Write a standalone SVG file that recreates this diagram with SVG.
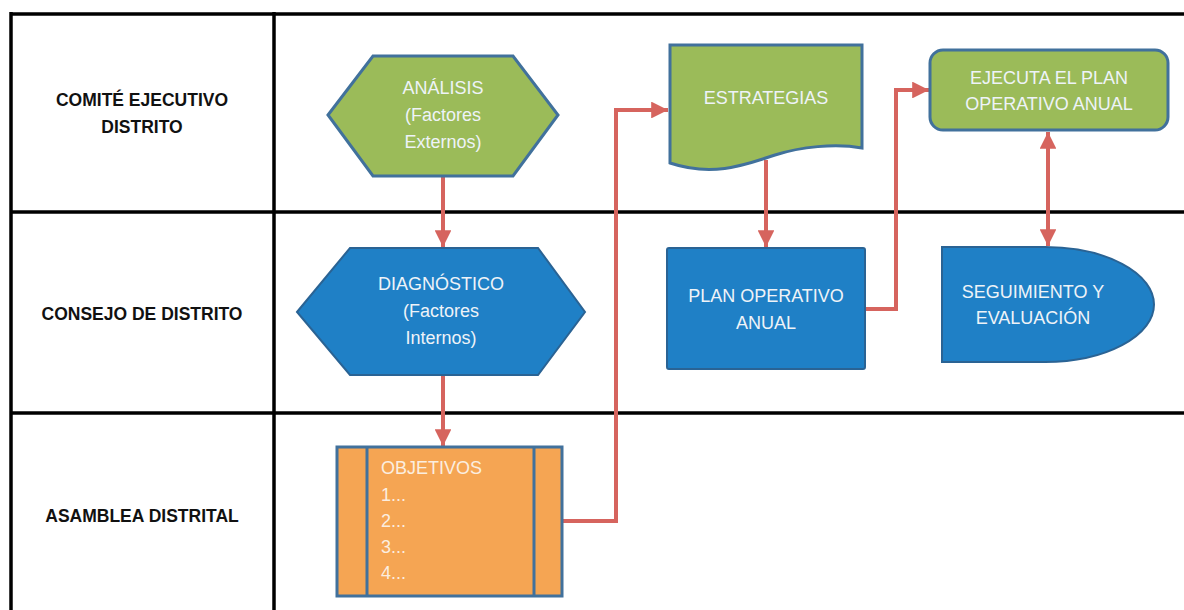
<svg xmlns="http://www.w3.org/2000/svg" width="1184" height="610" viewBox="0 0 1184 610">
<style>
.grid{stroke:#000;stroke-width:3.5;fill:none}
.lbl{font-family:"Liberation Sans",Arial,sans-serif;font-weight:bold;font-size:17.5px;fill:#111;text-anchor:middle}
.txt{font-family:"Liberation Sans",Arial,sans-serif;font-size:18px;fill:#eef3f8;text-anchor:middle}
.txtl{font-family:"Liberation Sans",Arial,sans-serif;font-size:18px;fill:#fbeee0}
.green{fill:#9bbb59;stroke:#41719c;stroke-width:3}
.blue{fill:#1f80c6;stroke:#2a6394;stroke-width:2}
.orange{fill:#f5a553;stroke:#41719c;stroke-width:3}
.conn{stroke:#d6645e;stroke-width:4;fill:none}
</style>
<defs>
<marker id="ah" viewBox="0 0 10 10" refX="10" refY="5" markerWidth="4.2" markerHeight="4.2" orient="auto-start-reverse" markerUnits="strokeWidth">
<path d="M0,0 L10,5 L0,10 Z" fill="#d6645e"/>
</marker>
</defs>
<rect width="1184" height="610" fill="#fff"/>
<g id="table">
<line class="grid" x1="11" y1="14" x2="1184" y2="14"/>
<line class="grid" x1="11" y1="212" x2="1184" y2="212"/>
<line class="grid" x1="11" y1="413" x2="1184" y2="413"/>
<line class="grid" x1="11" y1="12" x2="11" y2="610"/>
<line class="grid" x1="274" y1="12" x2="274" y2="610"/>
<text class="lbl" x="142" y="106">COMITÉ EJECUTIVO</text>
<text class="lbl" x="142" y="133">DISTRITO</text>
<text class="lbl" x="142" y="320">CONSEJO DE DISTRITO</text>
<text class="lbl" x="142" y="522">ASAMBLEA DISTRITAL</text>
</g>
<g id="connectors">
<line class="conn" x1="443" y1="177" x2="443" y2="247" marker-end="url(#ah)"/>
<line class="conn" x1="443" y1="376" x2="443" y2="446" marker-end="url(#ah)"/>
<polyline class="conn" points="563,521 616,521 616,110 668,110" marker-end="url(#ah)"/>
<line class="conn" x1="766" y1="160" x2="766" y2="247" marker-end="url(#ah)"/>
<polyline class="conn" points="866,309 896,309 896,90 929,90" marker-end="url(#ah)"/>
<line class="conn" x1="1048" y1="132" x2="1048" y2="246" marker-start="url(#ah)" marker-end="url(#ah)"/>
</g>
<g id="analisis">
<polygon class="green" points="328,115 373,56 513,56 558,115 513,176 373,176"/>
<text class="txt" x="443" y="94">ANÁLISIS</text>
<text class="txt" x="443" y="121">(Factores</text>
<text class="txt" x="443" y="148">Externos)</text>
</g>
<g id="diagnostico">
<polygon class="blue" points="297,312 350,248 538,248 585,312 538,375 350,375"/>
<text class="txt" x="441" y="290">DIAGNÓSTICO</text>
<text class="txt" x="441" y="317">(Factores</text>
<text class="txt" x="441" y="344">Internos)</text>
</g>
<g id="objetivos">
<rect class="orange" x="337" y="447" width="225" height="149"/>
<line x1="367" y1="447" x2="367" y2="596" stroke="#41719c" stroke-width="3"/>
<line x1="534" y1="447" x2="534" y2="596" stroke="#41719c" stroke-width="3"/>
<text class="txtl" x="381" y="474">OBJETIVOS</text>
<text class="txtl" x="381" y="501">1...</text>
<text class="txtl" x="381" y="527">2...</text>
<text class="txtl" x="381" y="553">3...</text>
<text class="txtl" x="381" y="579">4...</text>
</g>
<g id="estrategias">
<path class="green" d="M670,45 H862 V148 C835,143 800,147 775,155 C750,163 715,178 670,163 Z"/>
<text class="txt" x="766" y="104">ESTRATEGIAS</text>
</g>
<g id="plan">
<rect class="blue" x="667" y="248" width="198" height="121" rx="2"/>
<text class="txt" x="766" y="302">PLAN OPERATIVO</text>
<text class="txt" x="766" y="329">ANUAL</text>
</g>
<g id="ejecuta">
<rect class="green" x="930" y="50" width="238" height="80" rx="13"/>
<text class="txt" x="1049" y="84">EJECUTA EL PLAN</text>
<text class="txt" x="1049" y="110">OPERATIVO ANUAL</text>
</g>
<g id="seguimiento">
<path class="blue" d="M942,247 H1045 A109,57.5 0 0 1 1045,362 H942 Z"/>
<text class="txt" x="1033" y="298">SEGUIMIENTO Y</text>
<text class="txt" x="1033" y="324">EVALUACIÓN</text>
</g>
</svg>
